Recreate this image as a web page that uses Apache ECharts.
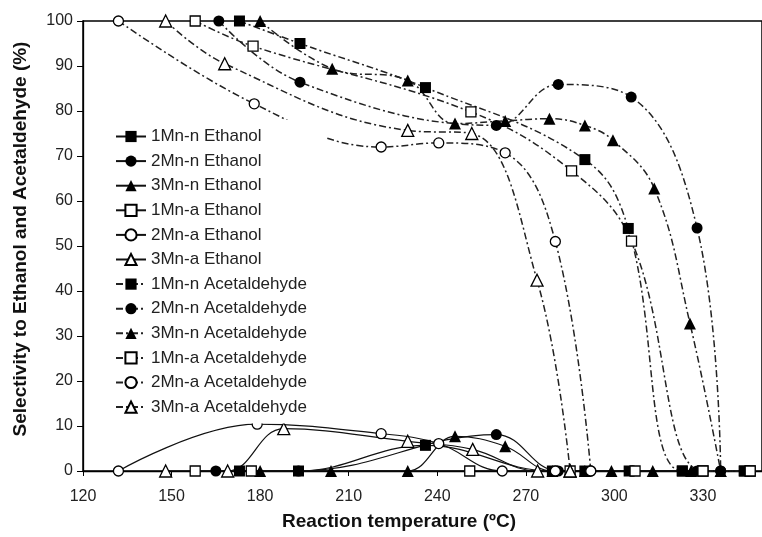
<!DOCTYPE html>
<html>
<head>
<meta charset="utf-8">
<script src="https://cdn.jsdelivr.net/npm/echarts@6/dist/echarts.min.js"></script>
<style>
  html, body { margin: 0; padding: 0; background: #fff; }
  #chart { width: 762px; height: 537px; }
</style>
</head>
<body>
<div id="chart"></div>
<script>
// [temperature, selectivity %]
const ethanol1Mn_n = [[173, 0], [193, 0], [236, 5.7], [279, 0], [290, 0], [305, 0], [323, 0], [344, 0]];
const ethanol2Mn_n = [[165, 0], [193, 0], [260, 8.1], [281, 0], [306, 0], [328, 0], [336, 0]];
const ethanol3Mn_n = [[180, 0], [204, 0], [230, 0], [246, 7.7], [263, 5.5], [279, 0], [290, 0], [299, 0], [313, 0], [326, 0], [336, 0]];
const ethanol1Mn_a = [[158, 0], [177, 0], [251, 0], [285, 0], [307, 0], [330, 0], [346, 0]];
const ethanol2Mn_a = [[132, 0], [179, 10.4], [221, 8.3], [240.5, 6.1], [262, 0], [280, 0], [292, 0]];
const ethanol3Mn_a = [[148, 0], [169, 0], [188, 9.4], [230, 6.6], [252, 4.8], [274, 0], [285, 0]];

const acet1Mn_n = [[173, 100], [193.5, 95], [236, 85.2], [290, 69.2], [304.7, 53.9], [323, 0], [344, 0]];
const acet2Mn_n = [[166, 100], [193.5, 86.4], [260, 76.8], [281, 85.9], [305.7, 83.1], [328, 54], [336, 0]];
const acet3Mn_n = [[180, 100], [204.4, 89.4], [230, 86.8], [246, 77.2], [263, 77.8], [278, 78.3], [290, 76.8], [299.5, 73.5], [313.5, 62.8], [325.6, 32.8], [336, 0]];
const acet1Mn_a = [[158, 100], [177.6, 94.4], [251.4, 79.8], [285.5, 66.7], [305.8, 51.1], [330, 0], [346, 0]];
const acet2Mn_a = [[132, 100], [178, 81.6], [221, 72], [240.5, 72.9], [263, 70.7], [280, 51], [292, 0]];
const acet3Mn_a = [[148, 100], [168, 90.5], [230, 75.7], [251.7, 75], [273.8, 42.4], [285, 0]];

const seriesNames = [
  '1Mn-n Ethanol', '2Mn-n Ethanol', '3Mn-n Ethanol',
  '1Mn-a Ethanol', '2Mn-a Ethanol', '3Mn-a Ethanol',
  '1Mn-n Acetaldehyde', '2Mn-n Acetaldehyde', '3Mn-n Acetaldehyde',
  '1Mn-a Acetaldehyde', '2Mn-a Acetaldehyde', '3Mn-a Acetaldehyde'
];
const seriesData = [
  ethanol1Mn_n, ethanol2Mn_n, ethanol3Mn_n, ethanol1Mn_a, ethanol2Mn_a, ethanol3Mn_a,
  acet1Mn_n, acet2Mn_n, acet3Mn_n, acet1Mn_a, acet2Mn_a, acet3Mn_a
];
const shapes = ['rect', 'circle', 'triangle'];

const series = seriesData.map((data, i) => {
  const dashed = i >= 6;
  const filled = (i % 6) < 3;
  const shape = shapes[i % 3];
  return {
    name: seriesNames[i],
    type: 'line',
    data: data,
    smooth: 0.4,
    symbol: shape,
    symbolSize: shape === 'triangle' ? 12 : (filled ? 11 : 10),
    showAllSymbol: true,
    lineStyle: {
      color: dashed ? '#222' : '#111',
      width: dashed ? 1.5 : 1.2,
      type: dashed ? [7, 3, 2, 3] : 'solid'
    },
    itemStyle: {
      color: filled ? '#000' : '#fff',
      borderColor: '#000',
      borderWidth: filled ? 0 : 1.3
    },
    emphasis: { disabled: true }
  };
});

const chart = echarts.init(document.getElementById('chart'));
chart.setOption({
  animation: false,
  backgroundColor: '#fff',
  textStyle: { fontFamily: 'Liberation Sans, Arial, sans-serif' },
  grid: {
    left: 83, top: 21, width: 684, height: 450,
    show: true, borderColor: '#000', borderWidth: 1.5, backgroundColor: 'transparent'
  },
  legend: {
    orient: 'vertical',
    left: 105, top: 120,
    padding: [8, 20, 8, 10],
    backgroundColor: '#fff',
    itemWidth: 30, itemHeight: 14, itemGap: 7.6,
    textStyle: { fontSize: 17, color: '#222', lineHeight: 17 },
    data: seriesNames
  },
  xAxis: {
    type: 'value', min: 120, max: 350, interval: 30,
    name: 'Reaction temperature (ºC)',
    nameLocation: 'middle', nameGap: 41,
    nameTextStyle: { fontSize: 19, fontWeight: 'bold', color: '#111', padding: [0, 47, 0, 0] },
    axisLine: { lineStyle: { color: '#000', width: 1.3 } },
    axisTick: { show: true, inside: false, length: 5, lineStyle: { color: '#000' } },
    axisLabel: { fontSize: 16, color: '#222', margin: 18, showMaxLabel: false },
    splitLine: { show: false }
  },
  yAxis: {
    type: 'value', min: 0, max: 100, interval: 10,
    name: 'Selectivity to Ethanol and Acetaldehyde (%)',
    nameLocation: 'middle', nameGap: 53,
    nameTextStyle: { fontSize: 19, fontWeight: 'bold', color: '#111', padding: [0, 0, 0, 14] },
    axisLine: { show: true, lineStyle: { color: '#000', width: 1.3 } },
    axisTick: { show: true, inside: false, length: 6, lineStyle: { color: '#000' } },
    axisLabel: { fontSize: 16, color: '#222', margin: 10 },
    splitLine: { show: false }
  },
  series: series
});
</script>
</body>
</html>
